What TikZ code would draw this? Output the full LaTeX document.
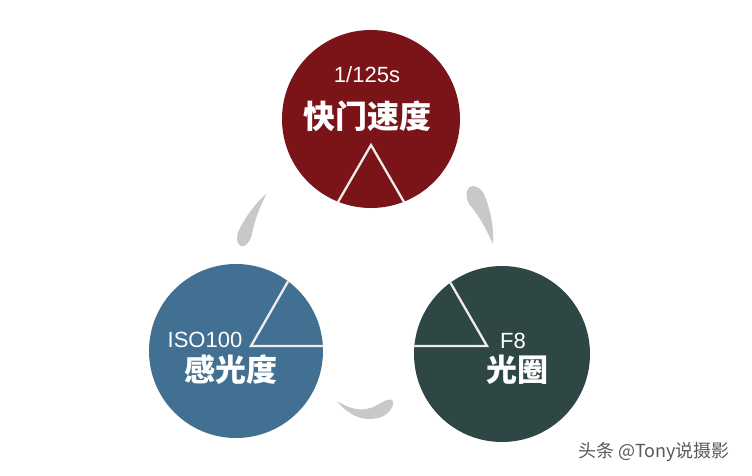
\documentclass[tikz,border=0pt]{standalone}
\usepackage{fontspec}
\setmainfont{Liberation Sans}
\newfontfamily\cjk{Noto Sans CJK SC}
\definecolor{shutterred}{RGB}{122,20,24}
\definecolor{isoblue}{RGB}{66,112,146}
\definecolor{apgreen}{RGB}{46,71,69}
\definecolor{swirl}{RGB}{200,200,200}
\definecolor{wline}{RGB}{240,236,236}
\begin{document}
\begin{tikzpicture}[x=1pt,y=-1pt,
  declare function={cw(\t)=(\t<0.78) ? (\t/0.78)^0.85 : sqrt(max(0,1-((\t-0.78)/0.22)^2));},
  disc/.style={circle,inner sep=0pt,minimum size=#1},
  wedge/.style={draw=wline,line width=2.3pt},
  numtext/.style={text=white,inner sep=0pt,font=\fontsize{22}{22}\selectfont},
  cjktext/.style={text=white,inner sep=0pt,font=\cjk\bfseries\fontsize{31}{31}\selectfont},
  swirlfill/.style={fill=swirl}]
\useasboundingbox (0,0) rectangle (752,476);
\fill[white] (0,0) rectangle (752,476);
% circles
\node[disc=178pt,fill=shutterred] (shutter) at (371,119) {};
\node[disc=174pt,fill=isoblue] (iso) at (236,351) {};
\node[disc=176pt,fill=apgreen] (aperture) at (502,354) {};
% wedges
\coordinate (sA) at (371,145);
\coordinate (sL) at (338,202);
\coordinate (sR) at (404,202);
\draw[wedge] (sL) -- (sA) -- (sR);
\coordinate (iA) at (251,346);
\coordinate (iH) at (323,346);
\coordinate (iD) at (288,281.5);
\draw[wedge] (iH) -- (iA) -- (iD);
\coordinate (gA) at (487,346);
\coordinate (gH) at (414.4,346);
\coordinate (gD) at (450.4,282.7);
\draw[wedge] (gH) -- (gA) -- (gD);
% texts
\node[numtext] (t1) at (367,75) {1/125s};
\node[cjktext,font=\cjk\bfseries\fontsize{32}{32}\selectfont] (t2) at (367,116) {快门速度};
\node[numtext] (t3) at (205,340) {ISO100};
\node[cjktext] (t4) at (231,370) {感光度};
\node[numtext] (t5) at (513,341) {F8};
\node[cjktext] (t6) at (517,370) {光圈};
% swirls
\coordinate (hub) at (371,276);
\fill[swirlfill] plot[domain=0:1,samples=70,variable=\t]
  ({371+(133+7*cw(\t))*cos(218-25*\t)},
   {276+(133+7*cw(\t))*sin(218-25*\t)})
  -- plot[domain=1:0,samples=70,variable=\t]
  ({371+(133-7*cw(\t))*cos(218-25*\t)},
   {276+(133-7*cw(\t))*sin(218-25*\t)}) -- cycle;
\fill[swirlfill] plot[domain=0:1,samples=70,variable=\t]
  ({371+(126+6*\t+9*cw(\t))*cos(345-27*\t)},
   {276+(126+6*\t+9*cw(\t))*sin(345-27*\t)})
  -- plot[domain=1:0,samples=70,variable=\t]
  ({371+(126+6*\t-9*cw(\t))*cos(345-27*\t)},
   {276+(126+6*\t-9*cw(\t))*sin(345-27*\t)}) -- cycle;
\fill[swirlfill] plot[domain=0:1,samples=70,variable=\t]
  ({371+(130-2*\t+9*sin(180*\t)+7*cw(\t))*cos(105-25*\t)},
   {276+(130-2*\t+9*sin(180*\t)+7*cw(\t))*sin(105-25*\t)})
  -- plot[domain=1:0,samples=70,variable=\t]
  ({371+(130-2*\t+9*sin(180*\t)-7*cw(\t))*cos(105-25*\t)},
   {276+(130-2*\t+9*sin(180*\t)-7*cw(\t))*sin(105-25*\t)}) -- cycle;
% watermark
\node[inner sep=0pt,text=black!65,font=\cjk\fontsize{18}{18}\selectfont] (wm) at (654,452) {头条 @Tony说摄影};
\end{tikzpicture}
\end{document}
